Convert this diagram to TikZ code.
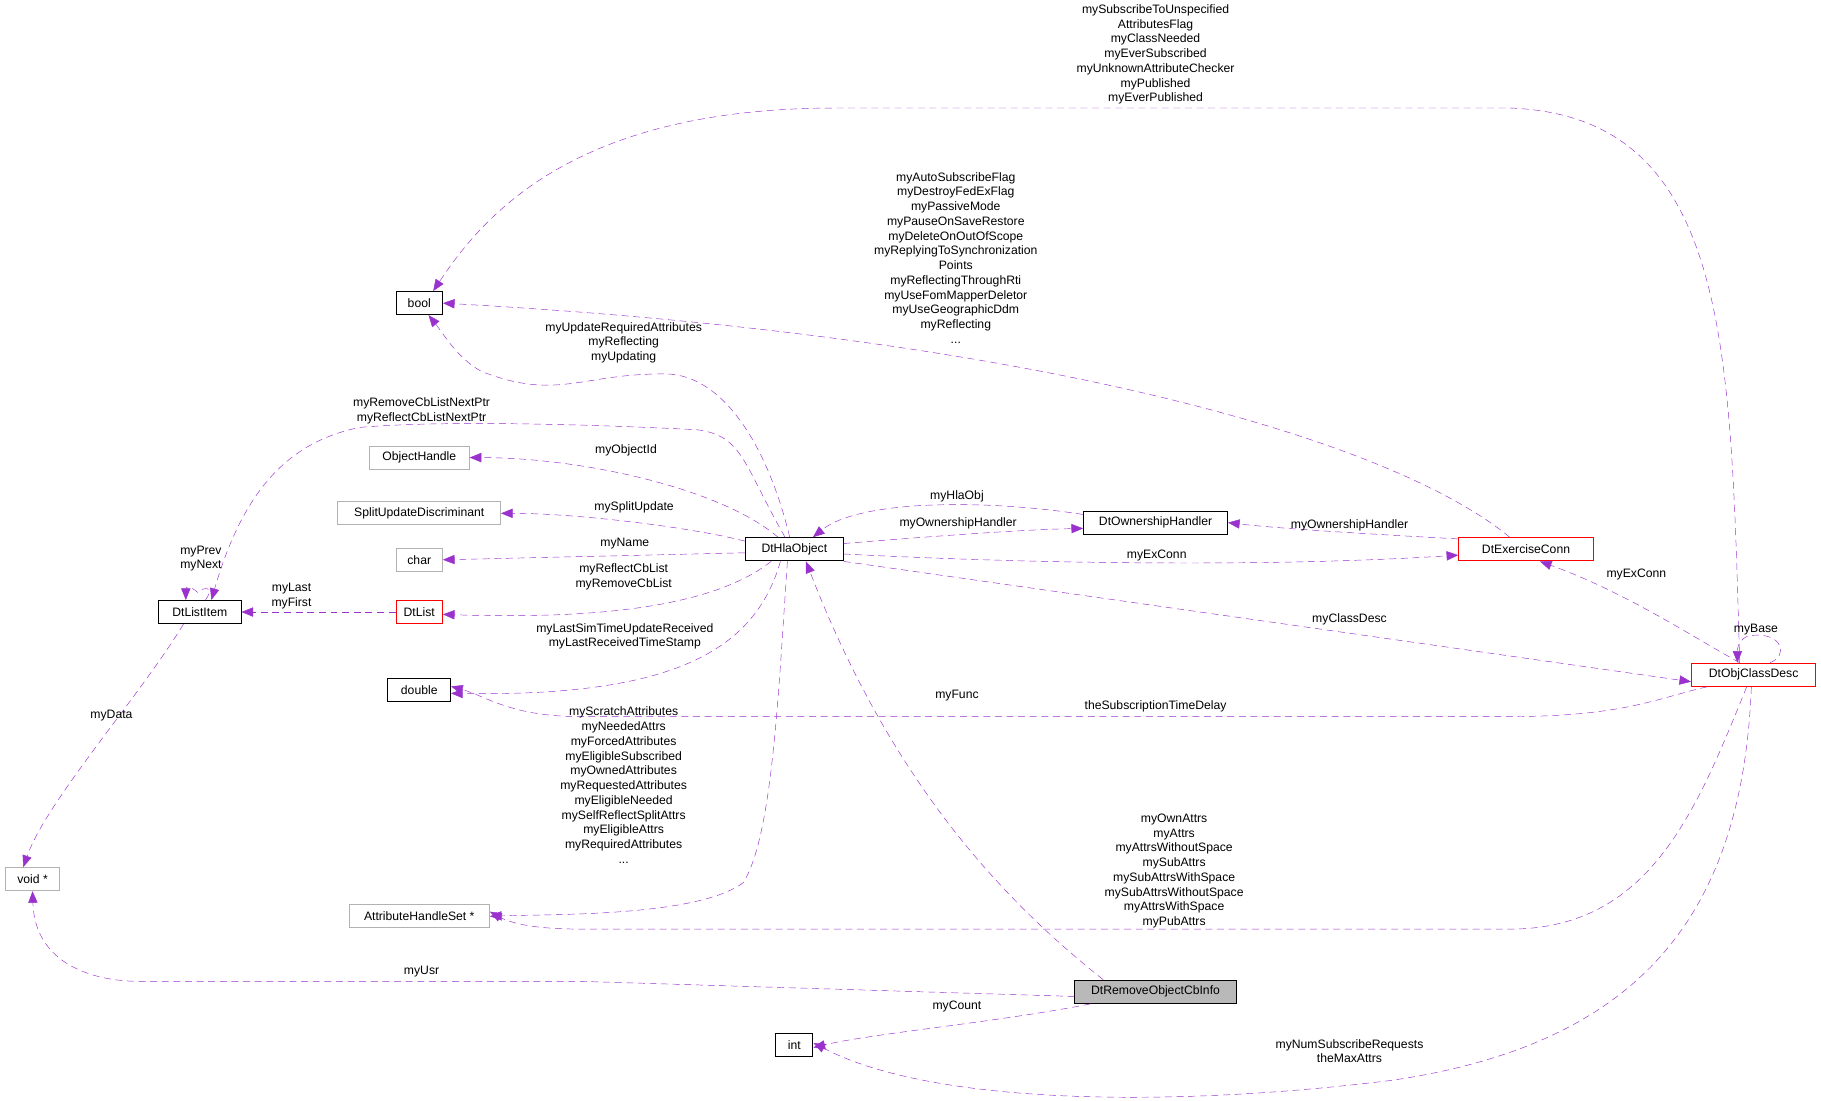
\documentclass[tikz,border=0pt]{standalone}
\usepackage{fontspec}
\setmainfont{Liberation Sans}
\usetikzlibrary{arrows.meta}
\definecolor{ec}{HTML}{9A32CD}
\begin{document}
\begin{tikzpicture}[x=1pt,y=-1pt,
  cls/.style={draw=black,thick,minimum height=20pt,inner sep=0pt,font=\fontsize{10.5}{12.7}\selectfont},
  ext/.style={cls,draw=gray!60},
  red/.style={cls,draw=red},
  e/.style={draw=ec,dashed,dash pattern=on 6pt off 4pt,-{Triangle[length=10pt,width=8pt]},thin},
  lb/.style={font=\fontsize{10.5}{12.7}\selectfont,align=center,inner sep=0pt}]
\useasboundingbox (0,0) rectangle (1568,948);
% nodes
\node[cls,minimum width=40] (bool) at (361,261) {bool};
\node[ext,minimum width=86] (oh) at (361,394) {ObjectHandle};
\node[ext,minimum width=140] (sud) at (361,442) {SplitUpdateDiscriminant};
\node[ext,minimum width=40] (char) at (361,482) {char};
\node[red,minimum width=40] (dl) at (361,527) {DtList};
\node[cls,minimum width=71] (dli) at (172,527) {DtListItem};
\node[cls,minimum width=54] (dbl) at (361,594) {double};
\node[ext,minimum width=46] (void) at (28,757) {void *};
\node[ext,minimum width=121] (ahs) at (361,789) {AttributeHandleSet *};
\node[cls,minimum width=32] (int) at (684,900) {int};
\node[cls,minimum width=84] (hla) at (684,473) {DtHlaObject};
\node[cls,minimum width=124] (own) at (995,450) {DtOwnershipHandler};
\node[red,minimum width=116] (exc) at (1314,473) {DtExerciseConn};
\node[red,minimum width=107] (ocd) at (1510,581) {DtObjClassDesc};
\node[cls,fill=gray!55,minimum width=139] (rem) at (995,854) {DtRemoveObjectCbInfo};
% edges
\draw[e] ([xshift=-12]ocd.north) .. controls (1490,300) and (1490,100) .. (1300,93) -- (720,93) .. controls (500,93) and (420,180) .. ([xshift=12]bool.north);
\draw[e] ([xshift=-14]exc.north) .. controls (1200,380) and (900,290) .. (bool.east);
\draw[e] ([xshift=-4]hla.north) .. controls (660,380) and (620,320) .. (570,322) .. controls (500,322) and (480,345) .. (415,320) .. controls (395,310) and (380,285) .. ([xshift=8]bool.south);
\draw[e] ([xshift=-8]hla.north) .. controls (640,400) and (640,375) .. (600,370) .. controls (500,365) and (380,362) .. (310,368) .. controls (250,380) and (210,420) .. ([xshift=10]dli.north);
\draw[e] ([xshift=-14]hla.north) .. controls (620,420) and (500,394) .. (oh.east);
\draw[e] ([yshift=7]hla.west) .. controls (600,455) and (500,442) .. (sud.east);
\draw[e] ([yshift=-3]hla.west) -- (char.east);
\draw[e] ([xshift=-20]hla.south) .. controls (630,510) and (560,535) .. ([yshift=-2]dl.east);
\draw[e] (dl.west) -- (dli.east);
\draw[e] ([xshift=5]dli.north) .. controls (185,505) and (176,505) .. (170,510) .. controls (165,505) and (160,505) .. ([xshift=-12]dli.north);
\draw[e] ([xshift=-14]dli.south) .. controls (120,600) and (40,690) .. ([xshift=-8]void.north);
\draw[e] ([xshift=-12]hla.south) .. controls (650,560) and (580,600) .. ([yshift=-3]dbl.east);
\draw[e] ([xshift=-6]hla.south) .. controls (670,600) and (665,720) .. (640,760) .. controls (600,790) and (470,787) .. (ahs.east);
\draw[e] ([yshift=5]hla.east) .. controls (800,462) and (880,456) .. ([yshift=-5]own.west);
\draw[e] ([yshift=7]own.west) .. controls (850,430) and (740,430) .. ([xshift=16]hla.north);
\draw[e] ([yshift=-4]hla.east) .. controls (900,486) and (1100,488) .. ([yshift=-5]exc.west);
\draw[e] ([yshift=9]exc.west) .. controls (1180,460) and (1100,455) .. (own.east);
\draw[e] (hla.south east) -- ([yshift=-6]ocd.west);
\draw[e] ([xshift=-12]ocd.north) .. controls (1460,550) and (1400,510) .. ([xshift=12]exc.south);
\draw[e] ([xshift=14]ocd.north) .. controls (1540,565) and (1535,545) .. (1510,547) .. controls (1500,547) and (1496,555) .. ([xshift=-14]ocd.north);
\draw[e] ([xshift=-40]ocd.south) .. controls (1430,600) and (1400,617) .. (1300,617) -- (500,617) .. controls (440,617) and (420,600) .. ([yshift=3]dbl.east);
\draw[e] ([xshift=-45]rem.north) .. controls (870,780) and (770,680) .. ([xshift=10]hla.south);
\draw[e] ([xshift=-6]ocd.south) .. controls (1460,700) and (1420,800) .. (1300,800) -- (500,800) .. controls (460,800) and (440,795) .. ([yshift=4]ahs.east);
\draw[e] ([yshift=-4]rem.west) -- (500,845) -- (120,845) .. controls (80,845) and (30,830) .. (void.south);
\draw[e] ([xshift=-56]rem.south) .. controls (860,880) and (750,890) .. ([yshift=-2]int.east);
\draw[e] ([xshift=-2]ocd.south) .. controls (1500,800) and (1400,900) .. (1200,930) .. controls (1000,955) and (800,950) .. ([yshift=2]int.east);
% labels
\node[lb] (l1) at (995,47) {mySubscribeToUnspecified\\AttributesFlag\\myClassNeeded\\myEverSubscribed\\myUnknownAttributeChecker\\myPublished\\myEverPublished};
\node[lb] (l2) at (823,222) {myAutoSubscribeFlag\\myDestroyFedExFlag\\myPassiveMode\\myPauseOnSaveRestore\\myDeleteOnOutOfScope\\myReplyingToSynchronization\\Points\\myReflectingThroughRti\\myUseFomMapperDeletor\\myUseGeographicDdm\\myReflecting\\...};
\node[lb] (l3) at (537,295) {myUpdateRequiredAttributes\\myReflecting\\myUpdating};
\node[lb] (l4) at (363,354) {myRemoveCbListNextPtr\\myReflectCbListNextPtr};
\node[lb] (l5) at (539,388) {myObjectId};
\node[lb] (l6) at (546,437) {mySplitUpdate};
\node[lb] (l7) at (538,468) {myName};
\node[lb] (l8) at (537,497) {myReflectCbList\\myRemoveCbList};
\node[lb] (l9) at (251,513) {myLast\\myFirst};
\node[lb] (l10) at (173,481) {myPrev\\myNext};
\node[lb] (l11) at (96,616) {myData};
\node[lb] (l12) at (538,548) {myLastSimTimeUpdateReceived\\myLastReceivedTimeStamp};
\node[lb] (l13) at (537,676) {myScratchAttributes\\myNeededAttrs\\myForcedAttributes\\myEligibleSubscribed\\myOwnedAttributes\\myRequestedAttributes\\myEligibleNeeded\\mySelfReflectSplitAttrs\\myEligibleAttrs\\myRequiredAttributes\\...};
\node[lb] (l14) at (825,451) {myOwnershipHandler};
\node[lb] (l15) at (824,427) {myHlaObj};
\node[lb] (l16) at (996,478) {myExConn};
\node[lb] (l17) at (1162,452) {myOwnershipHandler};
\node[lb] (l18) at (1162,533) {myClassDesc};
\node[lb] (l19) at (1409,495) {myExConn};
\node[lb] (l20) at (1512,542) {myBase};
\node[lb] (l21) at (995,608) {theSubscriptionTimeDelay};
\node[lb] (l22) at (824,599) {myFunc};
\node[lb] (l23) at (1011,750) {myOwnAttrs\\myAttrs\\myAttrsWithoutSpace\\mySubAttrs\\mySubAttrsWithSpace\\mySubAttrsWithoutSpace\\myAttrsWithSpace\\myPubAttrs};
\node[lb] (l24) at (363,837) {myUsr};
\node[lb] (l25) at (824,867) {myCount};
\node[lb] (l26) at (1162,905) {myNumSubscribeRequests\\theMaxAttrs};
\end{tikzpicture}
\end{document}
